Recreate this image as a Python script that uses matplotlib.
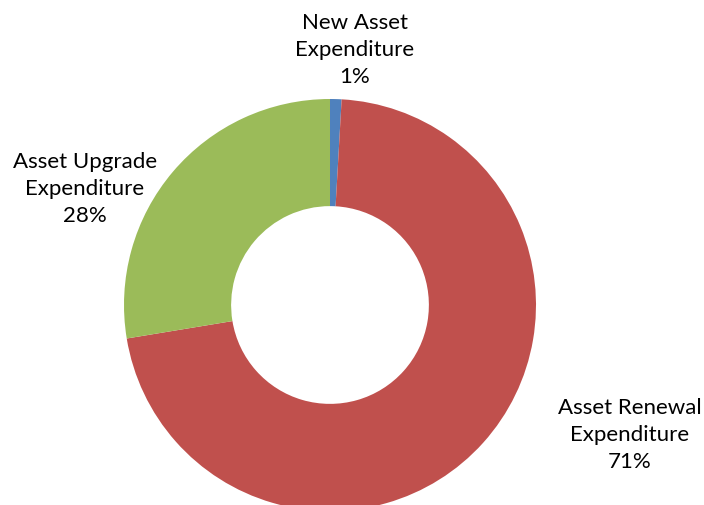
import matplotlib
matplotlib.use("Agg")
import matplotlib.pyplot as plt

# Capital expenditure split
labels = ["New Asset\nExpenditure", "Asset Renewal\nExpenditure", "Asset Upgrade\nExpenditure"]
values = [0.9, 71.5, 27.6]
pct_labels = ["1%", "71%", "28%"]
colors = ["#4F81BD", "#C0504D", "#9BBB59"]

W, H = 704, 506
fig = plt.figure(figsize=(W / 100, H / 100), dpi=100)

# donut centre ~ (330, 306) px, outer radius ~ 206 px
cx, cy, R = 330, 306, 206
ax = fig.add_axes([(cx - R) / W, (H - cy - R) / H, 2 * R / W, 2 * R / H])
ax.pie(values, colors=colors, startangle=90, counterclock=False,
       wedgeprops=dict(width=0.52, edgecolor="none"), radius=1.0)
ax.set_xlim(-1, 1)
ax.set_ylim(-1, 1)
ax.set_aspect("equal")
ax.axis("off")

# label positions in pixels (centre of text block)
label_pos = [(355, 50), (630, 435), (85, 189)]
for lab, pct, (px, py) in zip(labels, pct_labels, label_pos):
    fig.text(px / W, 1 - py / H, lab + "\n" + pct, ha="center", va="center",
             fontsize=16, family=["Lato", "DejaVu Sans"], linespacing=1.45,
             color="#000000")

fig.savefig("out.png", dpi=100)
